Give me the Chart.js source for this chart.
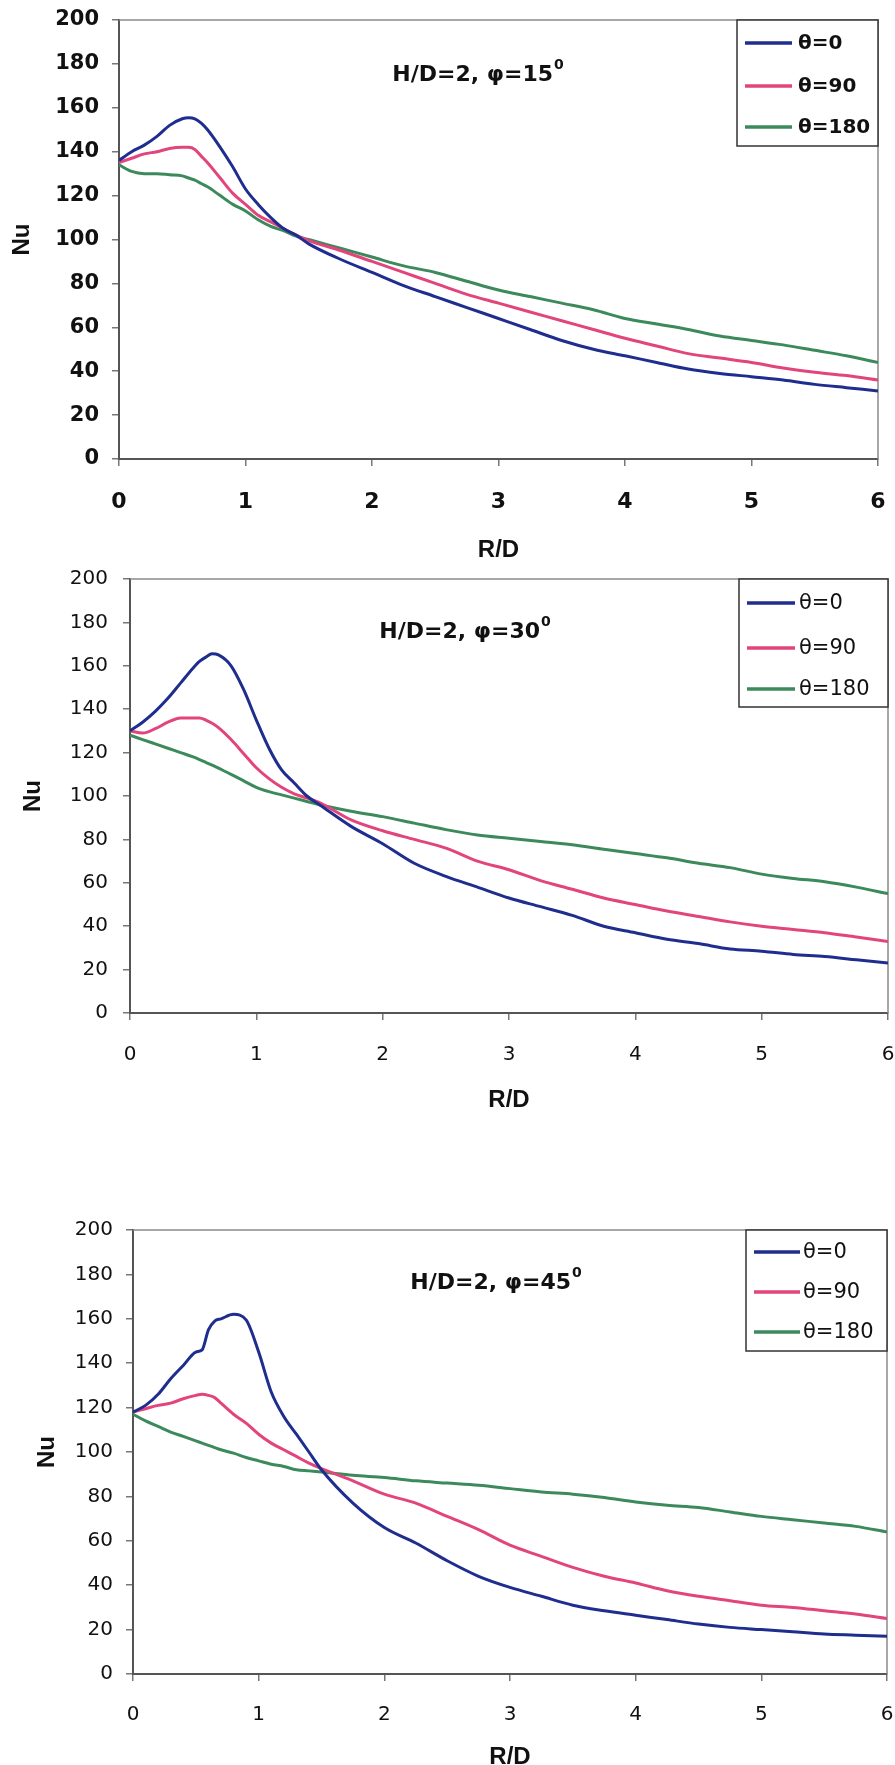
<!DOCTYPE html>
<html><head><meta charset="utf-8">
<script src="https://cdn.jsdelivr.net/npm/chart.js@4.4.1/dist/chart.umd.min.js"></script>
<style>
html,body{margin:0;padding:0;background:#fff}
#wrap{position:relative;width:895px;height:1765px;overflow:hidden;background:#fff}
canvas{position:absolute;left:0}
</style></head>
<body><div id="wrap">
<canvas id="c1" width="940" height="585" style="top:-20px"></canvas>
<canvas id="c2" width="940" height="583" style="top:537px"></canvas>
<canvas id="c3" width="940" height="575" style="top:1190px"></canvas>
</div>
<script>
// ---- data ----
const rd = [0,0.1,0.2,0.3,0.4,0.5,0.55,0.6,0.65,0.7,0.8,0.9,1.0,1.1,1.2,1.3,1.4,1.5,1.75,2,2.25,2.5,2.75,3,3.25,3.5,3.75,4,4.25,4.5,4.75,5,5.25,5.5,5.75,6];
const seriesNames = ['θ=0','θ=90','θ=180'];
const xTickValues = [0,1,2,3,4,5,6];
const yTickValues = [0,20,40,60,80,100,120,140,160,180,200];
const chartTitles = ['H/D=2, φ=15','H/D=2, φ=30','H/D=2, φ=45'];
const titleSup = '0';

const phi15_t0   = [136,140,143,147,152,155,155.5,155,153,150,142,133,123,116,110,105,102,98, 91,85,79,74,69,64,59,54,50,47,44,41,39,37.5,36,34,32.5,31];
const phi15_t90  = [135,137,139,140,141.5,142,142,141,138,135,128,121,116,111,108,105,102,99.5, 95,90,85,80,75,71,67,63,59,55,51.5,48,46,44,41.5,39.5,38,36];
const phi15_t180 = [134,131,130,130,129.5,129,128,127,125.5,124,120,116,113,109,106,104,101.5,100, 96,92,88,85,81,77,74,71,68,64,61.5,59,56,54,52,49.5,47,44];

const phi30_t0   = [130,134,139,145,152,159,162,164,165.5,165,160,149,135,122,112,106,100,96, 86,78,69,63,58,53,49,45,40,37,34,32,29.5,28.5,27,26,24.5,23];
const phi30_t90  = [130,129,131,134,136,136,136,135,133.5,131.5,126,119.5,113,108,104,101,99,97, 89,84,80,76,70,66,61,57,53,50,47,44.5,42,40,38.5,37,35,33];
const phi30_t180 = [128,126,124,122,120,118,116.8,115.5,114.2,112.8,110,107,104,102,100.5,99,97.5,96, 93,90.5,87.5,84.5,82,80.5,79,77.5,75.5,73.5,71.5,69,67,64,62,60.5,58,55];

const phi45_t0   = [118,121,126,133,139,145,146,155,159,160,162,159.5,145,127,116,108,100,92, 77,66,59,51,44,39,35,31,28.5,26.5,24.5,22.5,21,20,19,18,17.5,17];
const phi45_t90  = [118,119.5,121,122,124,125.5,126,125.5,124.5,122,117,113,108,104,101,98,95,92.5, 87,81,77,71,65,58,53,48,44,41,37.5,35,33,31,30,28.5,27,25];
const phi45_t180 = [117,114,111.5,109,107,105,104,103,102,101,99.5,97.5,96,94.5,93.5,92,91.5,91, 89.5,88.5,87,86,85,83.5,82,81,79.5,77.5,76,75,73,71,69.5,68,66.5,64];

const colors = ['#1f2d8e','#e2457c','#3c8a5c'];
const FONT = "'Liberation Sans', Arial, sans-serif";
const WIDE = "'DejaVu Sans', 'Liberation Sans', sans-serif";

const deco = {
  id: 'deco',
  beforeDatasetsDraw(chart, args, o) {
    const ctx = chart.ctx, a = chart.chartArea;
    ctx.save();
    ctx.strokeStyle = '#8a8a8a';
    ctx.lineWidth = 1.5;
    ctx.beginPath();
    ctx.moveTo(a.left, a.top); ctx.lineTo(a.right, a.top); ctx.lineTo(a.right, a.bottom);
    ctx.stroke();
    ctx.restore();
  },
  afterDatasetsDraw(chart, args, o) {
    const ctx = chart.ctx, off = o.canvasTop;
    ctx.save();
    // chart title
    ctx.fillStyle = '#111';
    ctx.textBaseline = 'middle';
    const supSize = Math.round(o.titleSize * 0.62);
    ctx.font = 'bold ' + o.titleSize + 'px ' + WIDE;
    const w1 = ctx.measureText(o.title).width;
    ctx.font = 'bold ' + supSize + 'px ' + WIDE;
    const w2 = ctx.measureText(titleSup).width;
    const x0 = o.titleX - (w1 + w2 + 1) / 2;
    const ty = o.titleY - off;
    ctx.font = 'bold ' + o.titleSize + 'px ' + WIDE;
    ctx.textAlign = 'left';
    ctx.fillText(o.title, x0, ty);
    ctx.font = 'bold ' + supSize + 'px ' + WIDE;
    ctx.fillText(titleSup, x0 + w1 + 1, ty - o.titleSize * 0.42);
    // legend box
    const L = o.legend, ly = L.y - off;
    ctx.fillStyle = '#fff';
    ctx.fillRect(L.x, ly, L.w, L.h);
    ctx.strokeStyle = '#333';
    ctx.lineWidth = 1.5;
    ctx.strokeRect(L.x, ly, L.w, L.h);
    ctx.font = L.weight + ' ' + L.size + 'px ' + WIDE;
    ctx.textAlign = 'left';
    ctx.textBaseline = 'middle';
    chart.data.datasets.forEach((ds, i) => {
      const y = ly + L.rows[i];
      ctx.strokeStyle = ds.borderColor;
      ctx.lineWidth = 3.5;
      ctx.beginPath();
      ctx.moveTo(L.x + L.lx0, y); ctx.lineTo(L.x + L.lx1, y);
      ctx.stroke();
      ctx.fillStyle = '#111';
      ctx.fillText(ds.label, L.x + L.tx, y + 1);
    });
    ctx.restore();
  }
};

function makeChart(id, vals, o) {
  const datasets = vals.map((v, i) => ({
    label: seriesNames[i],
    data: rd.map((x, k) => ({x: x, y: v[k]})),
    borderColor: colors[i],
    backgroundColor: colors[i],
    borderWidth: 3,
    pointRadius: 0,
    cubicInterpolationMode: 'monotone',
    fill: false
  }));
  return new Chart(document.getElementById(id), {
    type: 'line',
    data: { datasets },
    plugins: [deco],
    options: {
      responsive: false,
      animation: false,
      devicePixelRatio: 1,
      events: [],
      layout: { padding: { top: o.padTop, right: o.padRight, left: 0, bottom: 0 } },
      plugins: {
        legend: { display: false },
        tooltip: { enabled: false },
        title: { display: false },
        deco: o.deco
      },
      scales: {
        x: {
          type: 'linear', min: 0, max: 6,
          afterBuildTicks: s => { s.ticks = xTickValues.map(v => ({value: v})); },
          afterFit: s => { s.height = o.xH; },
          grid: { drawOnChartArea: false, drawTicks: true, tickLength: 7, color: '#777', lineWidth: 1.5 },
          border: { display: true, color: '#555', width: 2 },
          ticks: { color: '#111', padding: o.xPad, font: { family: WIDE, size: o.xTickSize, weight: o.tickWeight } },
          title: { display: true, text: 'R/D', color: '#111',
                   font: { family: FONT, size: 24, weight: 'bold', lineHeight: o.xTitleLH },
                   padding: { top: 0, bottom: o.xTitlePad } }
        },
        y: {
          type: 'linear', min: 0, max: 200,
          afterBuildTicks: s => { s.ticks = yTickValues.map(v => ({value: v})); },
          afterFit: s => { s.width = o.yW; },
          grid: { drawOnChartArea: false, drawTicks: true, tickLength: 7, color: '#777', lineWidth: 1.5 },
          border: { display: true, color: '#555', width: 2 },
          ticks: { color: '#111', padding: o.yPad, font: { family: WIDE, size: o.yTickSize, weight: o.tickWeight } },
          title: { display: true, text: 'Nu', color: '#111',
                   font: { family: FONT, size: 24, weight: 'bold', lineHeight: 1.2 },
                   padding: { top: o.yTitlePad, bottom: 0 } }
        }
      }
    }
  });
}

makeChart('c1', [phi15_t0, phi15_t90, phi15_t180], {
  padTop: 40, padRight: 62, yW: 119, xH: 106, xPad: 23, yPad: 13,
  xTickSize: 22, yTickSize: 21, tickWeight: 'bold', xTitleLH: 1.2, xTitlePad: 0, yTitlePad: 8,
  deco: { canvasTop: -20, title: chartTitles[0], titleSize: 22, titleX: 478, titleY: 75,
    legend: { x: 737, y: 20, w: 141, h: 126, rows: [23, 66, 107], lx0: 8, lx1: 55, tx: 61, size: 20, weight: 'bold' } }
});
makeChart('c2', [phi30_t0, phi30_t90, phi30_t180], {
  padTop: 42, padRight: 52, yW: 130, xH: 107, xPad: 23, yPad: 15,
  xTickSize: 20, yTickSize: 20, tickWeight: 'normal', xTitleLH: 1.2, xTitlePad: 5, yTitlePad: 19,
  deco: { canvasTop: 537, title: chartTitles[1], titleSize: 22, titleX: 465, titleY: 632,
    legend: { x: 739, y: 579, w: 149, h: 128, rows: [24, 69, 110], lx0: 8, lx1: 56, tx: 60, size: 21, weight: 'normal' } }
});
makeChart('c3', [phi45_t0, phi45_t90, phi45_t180], {
  padTop: 40, padRight: 53, yW: 133, xH: 91, xPad: 22, yPad: 13,
  xTickSize: 20, yTickSize: 20, tickWeight: 'normal', xTitleLH: 0.62, xTitlePad: 0, yTitlePad: 33,
  deco: { canvasTop: 1190, title: chartTitles[2], titleSize: 22, titleX: 496, titleY: 1283,
    legend: { x: 746, y: 1230, w: 141, h: 121, rows: [22, 62, 102], lx0: 8, lx1: 54, tx: 57, size: 21, weight: 'normal' } }
});
</script>
</body></html>
